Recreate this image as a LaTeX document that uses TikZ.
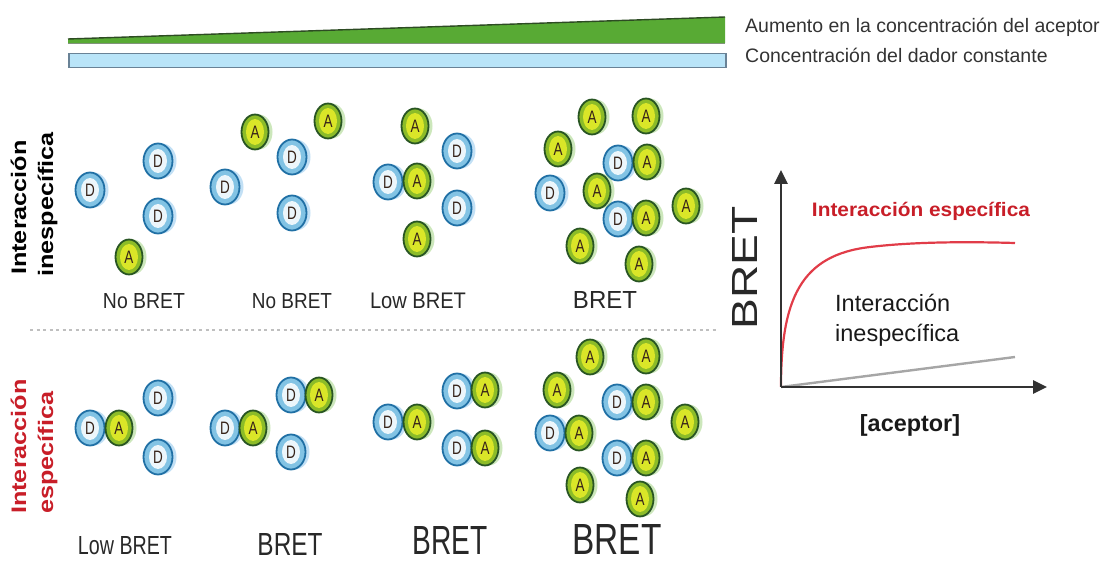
\documentclass[tikz,border=0pt]{standalone}
\usepackage{fontspec}
\setmainfont{Liberation Sans}
\usepackage{graphicx}
\usetikzlibrary{arrows.meta,shapes.geometric}

\definecolor{ringD}{RGB}{32,112,165}
\definecolor{fillD}{RGB}{130,195,228}
\definecolor{coreD}{RGB}{236,246,251}
\definecolor{glowD}{RGB}{80,165,225}
\definecolor{ringA}{RGB}{40,85,35}
\definecolor{fillA}{RGB}{140,188,40}
\definecolor{coreA}{RGB}{218,230,40}
\definecolor{glowA}{RGB}{110,185,60}
\definecolor{letter}{RGB}{55,35,25}
\definecolor{wedge}{RGB}{88,170,52}
\definecolor{wedgeline}{RGB}{45,75,35}
\definecolor{barblue}{RGB}{185,228,248}
\definecolor{barline}{RGB}{105,130,150}
\definecolor{redtxt}{RGB}{200,30,40}
\definecolor{redcurve}{RGB}{225,60,72}
\definecolor{axisgray}{RGB}{50,50,50}
\definecolor{labelgray}{RGB}{40,40,40}

\newcommand\lettr[1]{\scalebox{0.75}[1]{#1}}

\tikzset{
  x=1pt, y=-1pt,
  mol/.style={ellipse, inner sep=0pt, minimum width=29pt, minimum height=35pt,
    font=\fontsize{18}{18}\selectfont, text=letter},
  don/.style={mol, draw=ringD, line width=1.8pt, fill=fillD,
    preaction={fill=glowD, opacity=.35, transform canvas={xshift=4pt}},
    path picture={\fill[coreD] (path picture bounding box.center) ellipse (9pt and 12pt);}},
  acc/.style={mol, minimum width=27pt, draw=ringA, line width=1.8pt, fill=fillA,
    preaction={fill=glowA, opacity=.35, transform canvas={xshift=4pt}},
    path picture={\fill[coreA] (path picture bounding box.center) ellipse (9pt and 13pt);}},
  toptext/.style={anchor=base west, inner sep=0pt, text=black!80,
    font=\fontsize{19.5}{19.5}\selectfont},
  sidelabel/.style={rotate=90, anchor=base west, inner sep=0pt,
    font=\bfseries\fontsize{21}{21}\selectfont},
  bretlabel/.style={inner sep=1pt, text=labelgray},
  axisline/.style={draw=axisgray, line width=2.6pt, -{Triangle[length=14pt,width=13pt]}},
}

\begin{document}
\begin{tikzpicture}
\useasboundingbox (0,0) rectangle (1109,561);

% concentration bars
\coordinate (wl) at (68,43);
\coordinate (wr) at (725,43);
\fill[wedge] (wl) -- (68,39) -- (725,17) -- (wr) -- cycle;
\draw[wedgeline, line width=1.4pt] (68,39) -- (725,17);
\draw[wedgeline!60, line width=0.8pt] (wl) -- (wr);
\node[draw=barline, line width=1.5pt, fill=barblue, minimum width=657pt, minimum height=14pt,
      inner sep=0pt, anchor=north west] (bar) at (68,53) {};
\node[toptext] (t1) at (745,33) {Aumento en la concentración del aceptor};
\node[toptext] (t2) at (745,63) {Concentración del dador constante};

% row titles
\node[sidelabel] (s1) at (26,275) {\scalebox{1.2}[1]{Interacción}};
\node[sidelabel] (s2) at (53,277) {\scalebox{1.2}[1]{inespecífica}};
\node[sidelabel, text=redtxt] (s3) at (26,514) {\scalebox{1.2}[1]{Interacción}};
\node[sidelabel, text=redtxt] (s4) at (53,514) {\scalebox{1.2}[1]{específica}};

% separator
\coordinate (sepL) at (30,330);
\coordinate (sepR) at (716,330);
\draw[black!25, line width=1.5pt, dash pattern=on 3pt off 3.5pt] (sepL) -- (sepR);

% row 1: non-specific interaction
\foreach \n/\x/\y in {a1d1/90/190, a1d2/158/161, a1d3/158/216,
                      a2d1/225/187, a2d2/292/157, a2d3/292/213,
                      a3d1/457/151, a3d2/388/182, a3d3/457/208,
                      a4d1/618/163, a4d2/550/193, a4d3/618/219}
  \node[don] (\n) at (\x,\y) {\lettr{D}};
\foreach \n/\x/\y in {a1a1/129/257,
                      a2a1/255/132, a2a2/328/121,
                      a3a1/415/126, a3a2/417/181, a3a3/417/239,
                      a4a1/592/117, a4a2/646/116, a4a3/558/149, a4a4/647/162,
                      a4a5/597/191, a4a6/686/206, a4a7/646/218, a4a8/580/246, a4a9/639/264}
  \node[acc] (\n) at (\x,\y) {\lettr{A}};

% row 2: specific interaction
\foreach \n/\x/\y in {b1d1/90/428, b1d2/158/398, b1d3/158/457,
                      b2d1/225/428, b2d2/291/395, b2d3/291/452,
                      b3d1/388/422, b3d2/457/391, b3d3/457/448,
                      b4d1/617/402, b4d2/550/433, b4d3/617/458}
  \node[don] (\n) at (\x,\y) {\lettr{D}};
\foreach \n/\x/\y in {b1a1/119/428,
                      b2a1/253/428, b2a2/319/395,
                      b3a1/417/422, b3a2/485/390, b3a3/485/448,
                      b4a1/590/357, b4a2/646/356, b4a3/557/390, b4a4/646/402,
                      b4a5/685/422, b4a6/579/433, b4a7/646/458, b4a8/580/485, b4a9/640/499}
  \node[acc] (\n) at (\x,\y) {\lettr{A}};

% panel captions
\node[bretlabel] (c1) at (144,301) {\resizebox{82pt}{15pt}{No BRET}};
\node[bretlabel] (c2) at (292,301) {\resizebox{80pt}{15pt}{No BRET}};
\node[bretlabel] (c3) at (418,301) {\resizebox{96pt}{15.5pt}{Low BRET}};
\node[bretlabel] (c4) at (605,300) {\resizebox{64pt}{17pt}{BRET}};
\node[bretlabel] (c5) at (125,546) {\resizebox{94pt}{18pt}{Low BRET}};
\node[bretlabel] (c6) at (290,544) {\resizebox{65pt}{22pt}{BRET}};
\node[bretlabel] (c7) at (450,540) {\resizebox{75pt}{28pt}{BRET}};
\node[bretlabel] (c8) at (617,539) {\resizebox{89pt}{30pt}{BRET}};

% saturation plot
\coordinate (O) at (781,387);
\coordinate (ytip) at (781,170);
\coordinate (xtip) at (1047,387);
\coordinate (redend) at (1015,243);
\coordinate (grayend) at (1015,357);
\draw[gray!70, line width=2.4pt] (O) -- (grayend);
\draw[redcurve, line width=2.2pt] (O) .. controls (781,300) and (800,255) .. (870,247)
      .. controls (920,241) and (980,242) .. (redend);
\draw[axisline] (O) -- (ytip);
\draw[axisline] (O) -- (xtip);
\node[rotate=90, inner sep=0pt, text=labelgray] (ylab) at (745,268) {\resizebox{123pt}{25pt}{BRET}};
\node[inner sep=0pt, anchor=base, text=redtxt, font=\bfseries\fontsize{19.5}{19.5}\selectfont]
      (spec) at (921,217) {\scalebox{1.07}[1]{Interacción específica}};
\node[inner sep=0pt, anchor=base west, font=\fontsize{23.5}{23.5}\selectfont, text=black!90]
      (nspec1) at (835,312) {Interacción};
\node[inner sep=0pt, anchor=base west, font=\fontsize{23.5}{23.5}\selectfont, text=black!90]
      (nspec2) at (835,342) {inespecífica};
\node[inner sep=0pt, font=\bfseries\fontsize{23.4}{23.4}\selectfont, text=black!90]
      (xlab) at (910,425) {[aceptor]};
\end{tikzpicture}
\end{document}
